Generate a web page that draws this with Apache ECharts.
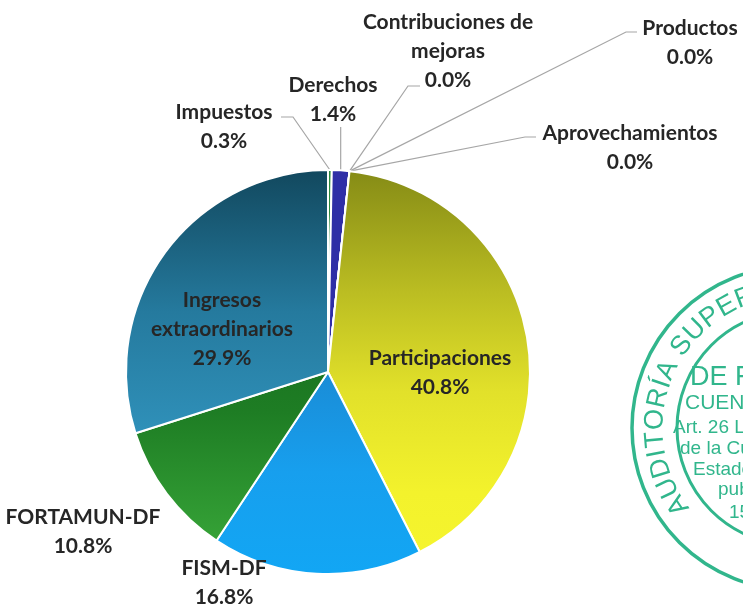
<!DOCTYPE html>
<html><head><meta charset="utf-8">
<script src="https://cdn.jsdelivr.net/npm/echarts@6/dist/echarts.min.js"></script>
<style>html,body{margin:0;padding:0;background:#fff}#c{width:743px;height:607px}</style>
</head><body><div id="c"></div>
<script>
// ---- data ----
const categories = ['Impuestos', 'Derechos', 'Contribuciones de\nmejoras', 'Productos', 'Aprovechamientos',
  'Participaciones', 'FISM-DF', 'FORTAMUN-DF', 'Ingresos\nextraordinarios'];
const shares = [0.3, 1.4, 0.0, 0.0, 0.0, 40.8, 16.8, 10.8, 29.9];

// ---- styling / layout (not data) ----
function grad(stops) {
  return { type: 'linear', x: 0, y: 172, x2: 0, y2: 572, global: true,
    colorStops: stops.map(s => ({ offset: s[0], color: s[1] })) };
}
const sliceColors = [
  '#2a8a3a',
  '#2e2ea6',
  '#7f7f7f',
  '#7f7f7f',
  '#7f7f7f',
  grad([[0, '#868c16'], [0.3, '#bbbd22'], [0.55, '#e2e12a'], [0.8, '#f3f22c'], [1, '#f6f52e']]),
  grad([[0, '#0e5a9a'], [0.5, '#1a8cd6'], [0.75, '#179fee'], [1, '#12a6f4']]),
  grad([[0, '#0f5a15'], [0.6, '#1e7d24'], [1, '#3bab3b']]),
  grad([[0, '#12495f'], [0.35, '#257a9e'], [0.65, '#2f90b9'], [1, '#3aa3cc']])
];
const hideLine = [false, false, false, false, false, true, true, true, true];
const labelSpots = [
  { x: 224, y: 127, line: [[293, 117], [281, 117]] },
  { x: 333, y: 100, vertical: [140, 127] },
  { x: 448, y: 51, line: [[408, 86], [420, 86]] },
  { x: 690, y: 43, line: [[626, 32], [637, 32]] },
  { x: 630, y: 148, line: [[525, 137], [536, 137]] },
  { x: 440, y: 373 },
  { x: 224, y: 583 },
  { x: 83, y: 532 },
  { x: 222, y: 329 }
];

const seriesData = categories.map((c, i) => ({
  name: c, value: shares[i],
  itemStyle: { color: sliceColors[i] },
  labelLine: { show: !hideLine[i] }
}));

// ---- stamp decoration ----
const stampColor = '#31b68c';
const stampCx = 794, stampCy = 428;
const stampFont = '27px "Liberation Sans", Arial, sans-serif';
const stampGraphics = [
  { type: 'circle', shape: { cx: stampCx, cy: stampCy, r: 162 }, style: { fill: 'none', stroke: stampColor, lineWidth: 3.5 } },
  { type: 'circle', shape: { cx: stampCx, cy: stampCy, r: 117 }, style: { fill: 'none', stroke: stampColor, lineWidth: 3 } }
];
const arcText = 'AUDITORÍA SUPERIOR';
const mctx = document.createElement('canvas').getContext('2d');
mctx.font = stampFont;
const R = 139;
let ang = 213.6 * Math.PI / 180;
for (let i = 0; i < arcText.length; i++) {
  const w = mctx.measureText(arcText[i]).width + 1.5;
  if (i > 0) ang -= (w / 2) / R;
  stampGraphics.push({
    type: 'text',
    x: stampCx + R * Math.cos(ang), y: stampCy - R * Math.sin(ang),
    rotation: ang - Math.PI / 2,
    style: { text: arcText[i], fill: stampColor, font: stampFont, align: 'center', verticalAlign: 'middle' }
  });
  ang -= (w / 2) / R;
}
const innerLines = [
  ['DE FISCALIZACIÓN', 690, 378, 27],
  ['CUENTA PÚBLICA', 685, 403, 21],
  ['Art. 26 Ley de Fiscalización', 673, 428, 19],
  ['de la Cuenta Pública del', 680, 449, 19],
  ['Estado de', 693, 470, 19],
  ['publicada', 718, 490, 19],
  ['15 de', 729, 513, 19]
];
innerLines.forEach(l => stampGraphics.push({
  type: 'text', x: l[1], y: l[2],
  style: { text: l[0], fill: stampColor, font: l[3] + 'px "Liberation Sans", Arial, sans-serif', align: 'left', verticalAlign: 'middle' }
}));

const chart = echarts.init(document.getElementById('c'), null, { renderer: 'canvas' });
chart.setOption({
  animation: false,
  backgroundColor: '#ffffff',
  graphic: stampGraphics,
  series: [{
    type: 'pie',
    center: [328, 372],
    radius: 202,
    startAngle: 90,
    clockwise: true,
    avoidLabelOverlap: false,
    minShowLabelAngle: 0,
    itemStyle: { borderColor: '#ffffff', borderWidth: 2 },
    label: {
      show: true,
      position: 'outside',
      formatter: p => p.name + '\n' + p.value.toFixed(1) + '%',
      color: '#262626',
      fontFamily: 'Lato',
      fontWeight: 'bold',
      fontSize: 21,
      lineHeight: 29,
      align: 'center'
    },
    labelLine: { show: true, length: 10, length2: 10, lineStyle: { color: '#a6a6a6', width: 1.2 } },
    labelLayout: function (p) {
      const s = labelSpots[p.dataIndex];
      const out = { x: s.x, y: s.y, align: 'center', verticalAlign: 'middle' };
      if (p.labelLinePoints) {
        const p0 = p.labelLinePoints[0];
        if (s.line) out.labelLinePoints = [p0, s.line[0], s.line[1]];
        else if (s.vertical) out.labelLinePoints = [p0, [p0[0], s.vertical[0]], [p0[0], s.vertical[1]]];
      }
      return out;
    },
    data: seriesData
  }]
});
</script>
</body></html>
